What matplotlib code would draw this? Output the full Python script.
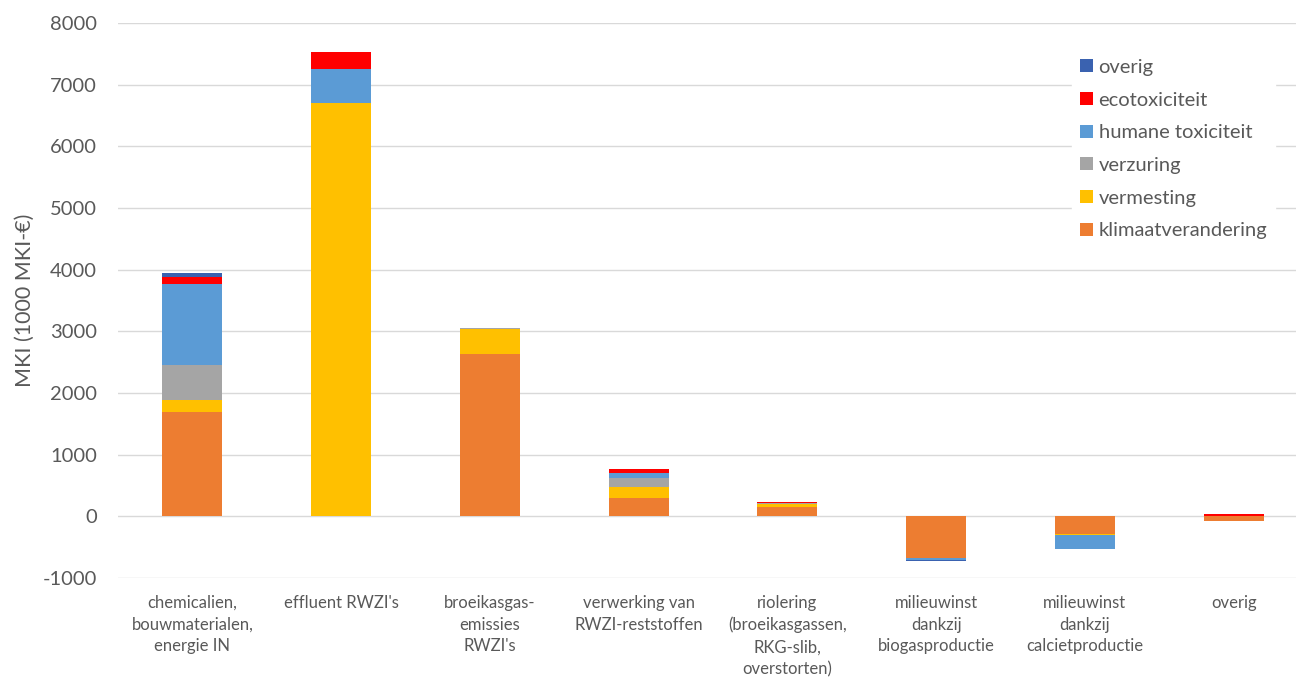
import numpy as np
import matplotlib
matplotlib.use("Agg")
import matplotlib.pyplot as plt

plt.rcParams['font.family'] = ['Lato', 'DejaVu Sans']
plt.rcParams['axes.unicode_minus'] = False

categories = [
    "chemicalien,\nbouwmaterialen,\nenergie IN",
    "effluent RWZI's",
    "broeikasgas-\nemissies\nRWZI's",
    "verwerking van\nRWZI-reststoffen",
    "riolering\n(broeikasgassen,\nRKG-slib,\noverstorten)",
    "milieuwinst\ndankzij\nbiogasproductie",
    "milieuwinst\ndankzij\ncalcietproductie",
    "overig",
]

klimaat = [1690, 0, 2630, 290, 150, -670, -280, -80]
vermesting = [195, 6705, 406, 180, 55, 0, -25, 0]
verzuring = [570, 0, 15, 145, 15, 0, 0, 0]
humane = [1315, 550, 0, 80, 0, -35, -220, 0]
eco = [115, 276, 0, 65, 5, 10, 0, 30]
overig = [65, 0, 0, 0, 0, -25, 0, 0]

series_names = ["klimaatverandering", "vermesting", "verzuring",
                "humane toxiciteit", "ecotoxiciteit", "overig"]
series_vals = [klimaat, vermesting, verzuring, humane, eco, overig]
colors = ["#ED7D31", "#FFC000", "#A5A5A5", "#5B9BD5", "#FF0000", "#3A62B0"]

fig = plt.figure(figsize=(12.96, 6.79), dpi=100)
ax = fig.add_axes([118 / 1296, 1 - 578 / 679, 1190 / 1296, (578 - 23) / 679])

x = np.arange(len(categories))
pos_bottom = np.zeros(len(categories))
neg_bottom = np.zeros(len(categories))
handles = []
for name, vals, c in zip(series_names, series_vals, colors):
    v = np.array(vals, dtype=float)
    bottom = np.where(v >= 0, pos_bottom, neg_bottom)
    h = ax.bar(x, v, width=0.405, bottom=bottom, color=c, label=name, zorder=3)
    handles.append(h)
    pos_bottom += np.where(v > 0, v, 0)
    neg_bottom += np.where(v < 0, v, 0)

ax.set_ylim(-1000, 8000)
ax.set_yticks(range(-1000, 8001, 1000))
ax.set_xlim(-0.5, 7.5)
ax.grid(axis='y', color='#D9D9D9', linewidth=1, zorder=0)
for s in ax.spines.values():
    s.set_visible(False)
ax.tick_params(axis='y', length=0, labelsize=14.5, colors='#595959', pad=15)
ax.tick_params(axis='x', length=0, pad=12)
ax.set_xticks(x)
ax.set_xticklabels(categories, fontsize=12, color='#595959', linespacing=1.45)
ax.set_ylabel("MKI (1000 MKI-€)", fontsize=15.5, color='#595959', labelpad=6)

leg = ax.legend(handles[::-1], series_names[::-1], loc='upper left',
                bbox_to_anchor=(0.802, 0.95), frameon=True, fontsize=14.5,
                handlelength=0.6, handleheight=0.6, handletextpad=0.3,
                labelspacing=0.78, borderpad=0.4, borderaxespad=0)
leg.get_frame().set_facecolor('white')
leg.get_frame().set_edgecolor('white')
leg.get_frame().set_alpha(1)
for t in leg.get_texts():
    t.set_color('#595959')

fig.savefig("out.png", dpi=100)
